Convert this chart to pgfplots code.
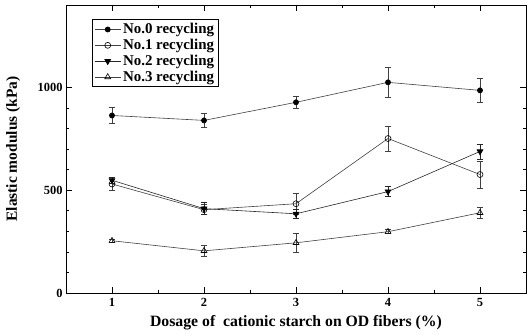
\documentclass[border=0pt]{standalone}
\usepackage{pgfplots}
\pgfplotsset{compat=1.18}
\usepackage{fontspec}
\setmainfont{Liberation Serif}
\begin{document}
\begin{tikzpicture}
\begin{axis}[
  scale only axis,
  width=460bp, height=288bp,
  xmin=0.5, xmax=5.5, ymin=0, ymax=1400,
  xtick={1,2,3,4,5}, ytick={0,500,1000},
  minor x tick num=1, minor y tick num=4,
  tick align=inside,
  axis line style={black, line width=0.8pt},
  tick style={black, line width=0.6pt},
  major tick length=6bp, minor tick length=3bp,
  xtick pos=both, ytick pos=both,
  xticklabel pos=lower, yticklabel pos=left,
  /pgf/number format/assume math mode=true,
  /pgf/number format/set thousands separator={},
  ticklabel style={font=\bfseries\fontsize{12.5}{14}\selectfont},
  xticklabel style={yshift=-2bp},
  xlabel={Dosage of \ cationic starch on OD fibers (\%)},
  ylabel={Elastic modulus (kPa)},
  xlabel style={font=\bfseries\fontsize{15.8}{17}\selectfont, at={(axis description cs:0.5,-0.104)}, anchor=center},
  ylabel style={font=\bfseries\fontsize{15.5}{17}\selectfont, at={(axis description cs:-0.115,0.5)}, anchor=center},
  legend style={at={(axis description cs:0.0565,0.951)}, anchor=north west, font=\bfseries\fontsize{15}{17}\selectfont, draw=black, line width=0.9pt, row sep=0pt, inner sep=2pt},
  legend cell align=left,
  legend image code/.code={\draw[mark repeat=2, mark phase=2] plot coordinates {(0bp,0bp) (13bp,0bp) (26bp,0bp)};},
  legend image post style={line width=0.6pt},
  every axis plot/.append style={line width=0.6pt},
  error bars/error bar style={line width=0.7pt},
  error bars/error mark options={rotate=90, mark size=3.5pt, line width=0.7pt},
]
\addplot[black!75, mark=*, mark size=2.6pt, mark options={black},
  error bars/.cd, y dir=both, y explicit]
  coordinates {(1,863) +- (0,38) (2,839) +- (0,35) (3,927) +- (0,30) (4,1024) +- (0,72) (5,985) +- (0,60)};
\addlegendentry{No.0 recycling}
\addplot[black!75, mark=o, mark size=3pt, mark options={black, fill=white},
  error bars/.cd, y dir=both, y explicit]
  coordinates {(1,530) +- (0,30) (2,405) +- (0,25) (3,434) +- (0,50) (4,751) +- (0,60) (5,576) +- (0,65)};
\addlegendentry{No.1 recycling}
\addplot[black!85, mark=triangle*, mark size=3.4pt, mark options={black, rotate=180},
  error bars/.cd, y dir=both, y explicit]
  coordinates {(1,548) +- (0,15) (2,410) +- (0,30) (3,385) +- (0,20) (4,493) +- (0,25) (5,688) +- (0,37)};
\addlegendentry{No.2 recycling}
\addplot[black!75, mark=triangle, mark size=3.4pt, mark options={black},
  error bars/.cd, y dir=both, y explicit]
  coordinates {(1,254) +- (0,8) (2,205) +- (0,25) (3,244) +- (0,45) (4,298) +- (0,10) (5,390) +- (0,25)};
\addlegendentry{No.3 recycling}
\end{axis}
\pgfresetboundingbox
\path[use as bounding box] ([xshift=-66bp,yshift=-42bp]current axis.south west) rectangle ([xshift=1bp,yshift=5bp]current axis.north east);
\end{tikzpicture}
\end{document}
